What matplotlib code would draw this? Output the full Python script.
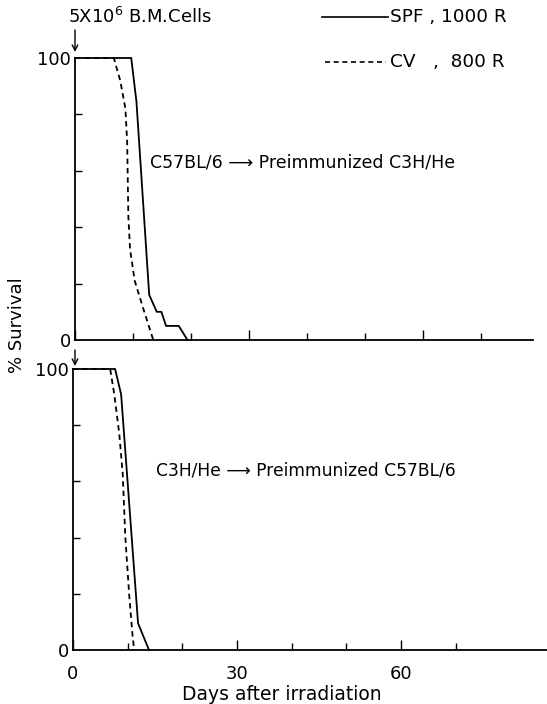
import matplotlib
matplotlib.use("Agg")
import matplotlib.pyplot as plt
from matplotlib.lines import Line2D

plt.rcParams['font.family'] = ['DejaVu Sans']

W, H = 547, 704

# Survival after irradiation + 5x10^6 bone marrow cells
# Upper panel: C57BL/6 -> preimmunized C3H/He
top_spf_days = [0, 9.7, 10.6, 12.8, 14.1, 14.9, 15.7, 17.9, 19.4]
top_spf_surv = [100, 100, 84.5, 16, 10, 10, 5, 5, 0]
top_cv_days = [0, 6.7, 7.8, 8.7, 9.0, 9.2, 9.5, 10.3, 11.8, 13.5]
top_cv_surv = [100, 100, 92, 82, 70, 44, 32, 21, 11, 0]

# Lower panel: C3H/He -> preimmunized C57BL/6
bot_spf_days = [0, 7.7, 8.8, 11.9, 13.9]
bot_spf_surv = [100, 100, 91, 9.5, 0]
bot_cv_days = [0, 6.8, 7.55, 8.46, 9.1, 9.56, 10.3, 10.9, 11.2]
bot_cv_surv = [100, 100, 91, 77, 62.5, 40.5, 19, 5, 0]

x_labels = ["0", "30", "60"]
x_label_pos = [0, 30, 60]
x_minor = [10, 20, 40, 50, 70]
y_minor = [20, 40, 60, 80]

fig = plt.figure(figsize=(W / 100, H / 100), dpi=100)


def px_box(x0, x1, ytop, ybot):
    return [x0 / W, 1 - ybot / H, (x1 - x0) / W, (ybot - ytop) / H]


ax_top = fig.add_axes(px_box(75, 533, 58, 340))
ax_bot = fig.add_axes(px_box(73, 547, 369, 650))

ax_top.set_xlim(0, 79)
ax_bot.set_xlim(0, 86.7)

lw = 1.3
dash = (0, (3.0, 2.2))

ax_top.plot(top_spf_days, top_spf_surv, color="black", lw=lw, clip_on=False)
ax_top.plot(top_cv_days, top_cv_surv, color="black", lw=lw, ls=dash, clip_on=False)
ax_bot.plot(bot_spf_days, bot_spf_surv, color="black", lw=lw, clip_on=False)
ax_bot.plot(bot_cv_days, bot_cv_surv, color="black", lw=lw, ls=dash, clip_on=False)

for ax in (ax_top, ax_bot):
    ax.set_ylim(0, 100)
    for s in ("top", "right"):
        ax.spines[s].set_visible(False)
    for s in ("left", "bottom"):
        ax.spines[s].set_linewidth(1.3)
    ax.set_facecolor("none")
    ax.set_yticks([0, 100])
    ax.set_yticklabels(["0", "100"], fontsize=13)
    ax.set_yticks(y_minor, minor=True)
    ax.tick_params(axis="y", which="major", length=0, pad=3)
    ax.tick_params(axis="y", which="minor", direction="in", length=5, width=1)
    ax.set_xticks(x_label_pos)
    ax.set_xticks(x_minor, minor=True)
    ax.tick_params(axis="x", which="major", direction="in", length=7, width=1)
    ax.tick_params(axis="x", which="minor", direction="in", length=5, width=1)

ax_top.set_xticklabels([])
ax_bot.set_xticklabels(x_labels, fontsize=13)
ax_bot.tick_params(axis="x", which="major", pad=11)

ax_bot.set_xlabel("Days after irradiation", fontsize=13.5, x=(282 - 73) / 474, labelpad=1)

ax_top.text(12.9, 62.8, "C57BL/6 \u27f6 Preimmunized C3H/He", fontsize=12.5,
            va="center", ha="left")
ax_bot.text(15.2, 64, "C3H/He \u27f6 Preimmunized C57BL/6", fontsize=12.3,
            va="center", ha="left")

fig.text(17 / W, 1 - 325 / H, "% Survival", rotation=90, fontsize=13,
         ha="center", va="center")

fig.text(68 / W, 1 - 17 / H, "5X10$^{6}$ B.M.Cells", fontsize=13, ha="left", va="center")

# injection arrows above each panel
fig.add_artist(plt.Annotation("", xy=(75 / W, 1 - 52 / H), xytext=(75 / W, 1 - 30 / H),
                              xycoords="figure fraction", textcoords="figure fraction",
                              arrowprops=dict(arrowstyle="->", lw=1.0, color="black",
                                              shrinkA=0, shrinkB=0)))
fig.add_artist(plt.Annotation("", xy=(75 / W, 1 - 366 / H), xytext=(75 / W, 1 - 350 / H),
                              xycoords="figure fraction", textcoords="figure fraction",
                              arrowprops=dict(arrowstyle="->", lw=1.0, color="black",
                                              shrinkA=0, shrinkB=0)))

# key
fig.add_artist(Line2D([322 / W, 388 / W], [1 - 17 / H, 1 - 17 / H], color="black", lw=1.2))
fig.add_artist(Line2D([325 / W, 386 / W], [1 - 62 / H, 1 - 62 / H], color="black", lw=1.2,
                      ls=dash))
fig.text(390 / W, 1 - 17 / H, "SPF , 1000 R", fontsize=13.3, ha="left", va="center")
fig.text(390 / W, 1 - 62 / H, "CV   ,  800 R", fontsize=13.3, ha="left", va="center")

fig.savefig("out.png", dpi=100, facecolor="white")
